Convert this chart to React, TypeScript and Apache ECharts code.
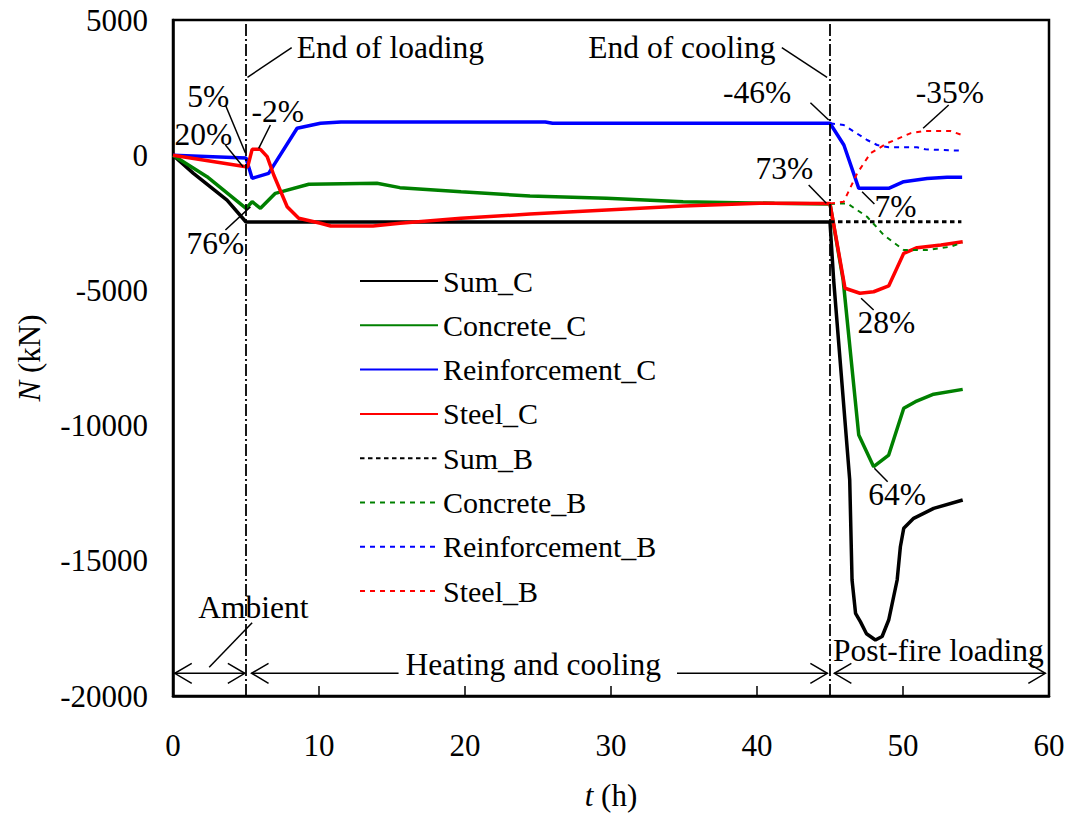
import React, { useEffect, useRef } from "react";
import * as echarts from "echarts";

const FAMILY = "Liberation Serif";

// Axis ticks
const xTicks = [0, 10, 20, 30, 40, 50, 60];
const yTicks = [5000, 0, -5000, -10000, -15000, -20000];

// Phase boundaries (h)
const endOfLoading = 5;
const endOfCooling = 45;

// Axial force N (kN) vs time t (h), column C
const sumC_t = [0, 1.4, 3.7, 5, 45, 45.25, 46.35, 46.51, 46.75, 47.08, 47.5, 48.11, 48.57, 49.02, 49.6, 49.82, 50.05, 50.73, 52.1, 54.09];
const sumC_n = [0, -670, -1660, -2470, -2470, -4615, -12010, -15710, -16940, -17250, -17700, -17930, -17800, -17190, -15710, -14480, -13800, -13430, -13060, -12750];

const concreteC_t = [0, 2.33, 5, 5.42, 5.99, 7.01, 9.3, 13.97, 15.54, 19.73, 24.45, 29.7, 34.94, 41.2, 45, 45.9, 46.97, 47.99, 49.02, 50.05, 50.85, 52.1, 54.09];
const concreteC_n = [0, -795, -1965, -1720, -1965, -1410, -1076, -1040, -1200, -1350, -1510, -1595, -1720, -1780, -1805, -4615, -10350, -11520, -11090, -9360, -9115, -8840, -8660];

const reinfC_t = [0, 5, 5.42, 6.55, 8.5, 10.1, 11.5, 25.5, 26, 45, 45.95, 46.97, 49.02, 50.05, 51.65, 53.02, 54.05];
const reinfC_n = [0, -100, -855, -670, 995, 1180, 1230, 1230, 1180, 1180, 377, -1225, -1225, -980, -860, -815, -815];

const steelC_t = [0, 5, 5.12, 5.42, 5.99, 6.45, 6.9, 7.82, 8.61, 10.1, 10.8, 13.7, 15.54, 19.73, 24.45, 29.7, 34.94, 40.18, 45, 46.03, 47.05, 47.99, 49.02, 50.05, 50.96, 52.6, 54.09];
const steelC_n = [0, -430, -425, 218, 218, -55, -732, -1905, -2333, -2518, -2618, -2618, -2520, -2335, -2175, -2025, -1880, -1780, -1790, -4920, -5105, -5050, -4835, -3630, -3420, -3320, -3200];

// Column B, post-fire loading only
const sumB_t = [45, 54];
const sumB_n = [-2460, -2460];

const concreteB_t = [45, 46.17, 47.54, 48.68, 50.05, 51.65, 53.25, 54.05];
const concreteB_n = [-1805, -1780, -2275, -2950, -3505, -3505, -3385, -3235];

const reinfB_t = [45, 45.94, 47.54, 48.23, 49.02, 50.96, 51.53, 54.05];
const reinfB_n = [1180, 1117, 562, 377, 292, 292, 218, 166];

const steelB_t = [45, 45.94, 46.86, 47.77, 48.91, 50.5, 51.42, 53.25, 54.05];
const steelB_n = [-1790, -1720, -670, 70, 440, 810, 895, 895, 747];

// Callouts: text anchor, leader line from -> to (data coordinates)
const callouts = [
  { text: "End of loading", at: [14.89, 4000], from: [8.13, 3975], to: [5.1, 2880] },
  { text: "End of cooling", at: [34.86, 4000], from: [41.7, 3975], to: [44.8, 2880] },
  { text: "5%", at: [2.42, 2189], from: [3.59, 1856], to: [4.96, 81] },
  { text: "20%", at: [2.08, 784], from: [3.59, 377], to: [4.8, -425] },
  { text: "-2%", at: [7.18, 1598], from: [6.67, 1117], to: [5.87, 255] },
  { text: "76%", at: [2.9, -3284], from: [3.59, -2766], to: [5.3, -1912] },
  { text: "-46%", at: [40.0, 2319], from: [43.66, 1941], to: [44.91, 1302] },
  { text: "-35%", at: [53.21, 2319], from: [53.13, 1856], to: [51.38, 995] },
  { text: "73%", at: [41.88, -510], from: [43.54, -1102], to: [44.75, -1779] },
  { text: "7%", at: [49.48, -1905], from: [48.04, -1805], to: [47.2, -1350] },
  { text: "28%", at: [48.86, -6187], from: [47.99, -5724], to: [47.13, -5292] },
  { text: "64%", at: [49.6, -12555], from: [48.95, -12074], to: [48.04, -11578] },
  { text: "Ambient", at: [5.51, -16744], from: [2.48, -18937], to: [5.42, -17288] },
];

// Phase span arrows at a fixed N level
const arrowLevel = -19160;
const phaseArrows = [
  { from: 0.12, to: 4.92, headStart: true, headEnd: true },
  { from: 5.38, to: 15.45, headStart: true, headEnd: false },
  { from: 34.52, to: 44.82, headStart: false, headEnd: true },
  { from: 45.3, to: 59.75, headStart: true, headEnd: true },
];
const phaseTexts = [
  { text: "Heating and cooling", at: [24.68, -18852] },
  { text: "Post-fire loading", at: [52.42, -18335] },
];

const pairs = (t: number[], n: number[]) => t.map((x, i) => [x, n[i]]);

const seriesDefs = [
  { name: "Sum_C", t: sumC_t, n: sumC_n, color: "#000000", dashed: false },
  { name: "Concrete_C", t: concreteC_t, n: concreteC_n, color: "#008000", dashed: false },
  { name: "Reinforcement_C", t: reinfC_t, n: reinfC_n, color: "#0000ff", dashed: false },
  { name: "Steel_C", t: steelC_t, n: steelC_n, color: "#ff0000", dashed: false },
  { name: "Sum_B", t: sumB_t, n: sumB_n, color: "#000000", dashed: true },
  { name: "Concrete_B", t: concreteB_t, n: concreteB_n, color: "#008000", dashed: true },
  { name: "Reinforcement_B", t: reinfB_t, n: reinfB_n, color: "#0000ff", dashed: true },
  { name: "Steel_B", t: steelB_t, n: steelB_n, color: "#ff0000", dashed: true },
];

const lineStyleOf = (name: string, color: string, dashed: boolean): any =>
  dashed
    ? { color, width: name === "Sum_B" ? 3 : 2, type: name === "Sum_B" ? [4.5, 3.5] : [5, 5] }
    : { color, width: 3.5, type: "solid" };

export default function App() {
  const ref = useRef<HTMLDivElement>(null);

  useEffect(() => {
    document.body.style.margin = "0";
    const chart = echarts.init(ref.current!, undefined, { renderer: "svg" });

    const txt = { fontSize: 31, fontFamily: FAMILY, color: "#000", fontStyle: "normal", fontWeight: "normal" };

    const series: any[] = seriesDefs.map((s) => ({
      name: s.name,
      type: "line",
      data: pairs(s.t, s.n),
      symbol: "none",
      showSymbol: false,
      itemStyle: { color: s.color },
      lineStyle: lineStyleOf(s.name, s.color, s.dashed),
      z: s.dashed ? 3 : 2,
    }));
    series[0].markLine = {
      silent: true,
      symbol: ["none", "none"],
      label: { show: false },
      lineStyle: { color: "#000", width: 1.8, type: [12, 3, 2, 3] },
      data: [{ xAxis: endOfLoading }, { xAxis: endOfCooling }],
    };

    chart.setOption({
      animation: false,
      backgroundColor: "#fff",
      textStyle: { fontFamily: FAMILY },
      grid: {
        left: 173,
        right: 24,
        top: 20,
        bottom: 124,
        show: true,
        borderColor: "#000",
        borderWidth: 2.5,
        containLabel: false,
      },
      legend: {
        orient: "vertical",
        left: 359,
        top: 266,
        padding: 0,
        itemWidth: 78,
        itemHeight: 14,
        itemGap: 14.3,
        itemStyle: { color: "rgba(0,0,0,0)", borderWidth: 0, opacity: 0 },
        textStyle: { ...txt, fontSize: 30, lineHeight: 30 },
        data: seriesDefs.map((s) => s.name),
      },
      xAxis: {
        type: "value",
        min: xTicks[0],
        max: xTicks[xTicks.length - 1],
        interval: 10,
        name: "{i|t} (h)",
        nameLocation: "middle",
        nameGap: 84,
        nameTextStyle: { ...txt, rich: { i: { ...txt, fontStyle: "italic" } } },
        axisLine: { onZero: false, lineStyle: { color: "#000", width: 2.5 } },
        axisTick: { inside: true, length: 10, lineStyle: { color: "#000", width: 1.5 } },
        axisLabel: { ...txt, margin: 34, formatter: (v: number) => String(v) },
        splitLine: { show: false },
      },
      yAxis: {
        type: "value",
        min: yTicks[yTicks.length - 1],
        max: yTicks[0],
        interval: 5000,
        name: "{i|N} (kN)",
        nameLocation: "middle",
        nameRotate: 90,
        nameGap: 128,
        nameTextStyle: { ...txt, rich: { i: { ...txt, fontStyle: "italic" } } },
        axisLine: { show: true, onZero: false, lineStyle: { color: "#000", width: 2.5 } },
        axisTick: { show: false },
        axisLabel: { ...txt, margin: 25, formatter: (v: number) => String(v) },
        splitLine: { show: false },
      },
      series,
    } as any);

    const toPx = (p: number[]) => chart.convertToPixel({ gridIndex: 0 }, p) as number[];
    const text = (str: string, x: number, y: number) => ({
      type: "text",
      x,
      y,
      silent: true,
      z: 10,
      style: {
        text: str,
        fill: "#000",
        font: `31.5px ${FAMILY}`,
        align: "center",
        verticalAlign: "middle",
        textAlign: "center",
        textVerticalAlign: "middle",
      },
    });
    const thin = { stroke: "#000", lineWidth: 1.5, fill: "none" };
    const elements: any[] = [];

    // Callouts with leader lines
    callouts.forEach((c) => {
      const a = toPx(c.from);
      const b = toPx(c.to);
      elements.push({ type: "line", silent: true, z: 10, shape: { x1: a[0], y1: a[1], x2: b[0], y2: b[1] }, style: thin });
      const p = toPx(c.at);
      elements.push(text(c.text, p[0], p[1]));
    });

    // Phase span arrows
    const headLen = 17;
    const headHalf = 10;
    phaseArrows.forEach((ar) => {
      const a = toPx([ar.from, arrowLevel]);
      const b = toPx([ar.to, arrowLevel]);
      elements.push({ type: "line", silent: true, z: 10, shape: { x1: a[0], y1: a[1], x2: b[0], y2: b[1] }, style: thin });
      if (ar.headStart) {
        elements.push({
          type: "polyline",
          silent: true,
          z: 10,
          shape: { points: [[a[0] + headLen, a[1] - headHalf], [a[0], a[1]], [a[0] + headLen, a[1] + headHalf]] },
          style: thin,
        });
      }
      if (ar.headEnd) {
        elements.push({
          type: "polyline",
          silent: true,
          z: 10,
          shape: { points: [[b[0] - headLen, b[1] - headHalf], [b[0], b[1]], [b[0] - headLen, b[1] + headHalf]] },
          style: thin,
        });
      }
    });
    phaseTexts.forEach((p) => {
      const q = toPx(p.at);
      elements.push(text(p.text, q[0], q[1]));
    });

    chart.setOption({ graphic: { elements } });

    return () => chart.dispose();
  }, []);

  return <div ref={ref} style={{ width: 1073, height: 820 }} />;
}
